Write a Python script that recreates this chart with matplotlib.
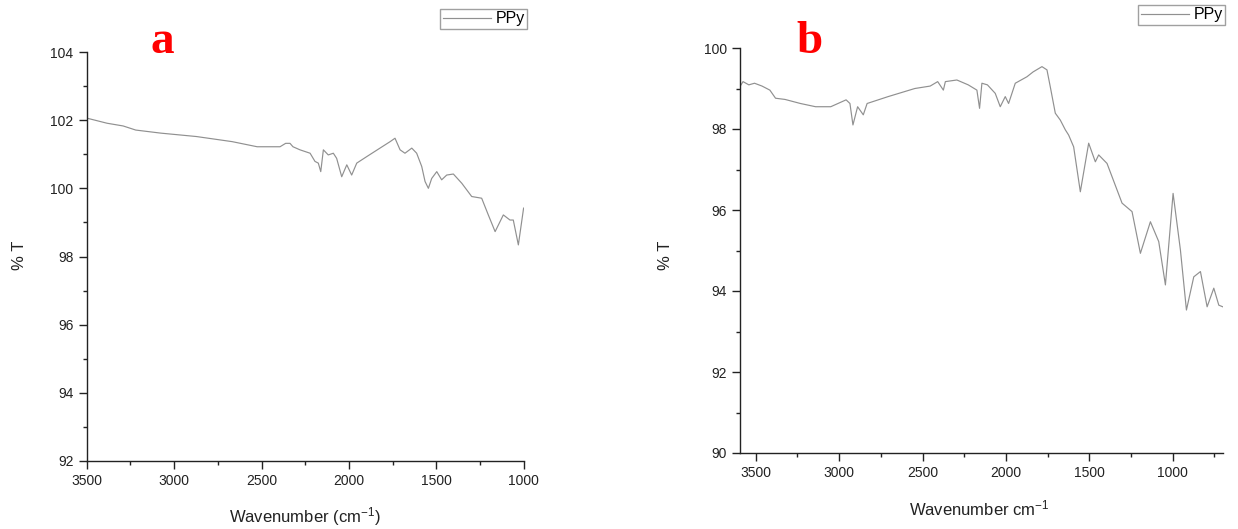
import matplotlib
matplotlib.use("Agg")
import matplotlib.pyplot as plt
from matplotlib.ticker import MultipleLocator

plt.rcParams['font.family'] = ['Liberation Sans', 'DejaVu Sans']
plt.rcParams['mathtext.default'] = 'regular'

# panel a: PPy spectrum
wn_a = [3500, 3384, 3292, 3220, 3077, 2873, 2668, 2525, 2443, 2394, 2362, 2337,
        2320, 2280, 2222, 2194, 2175, 2161, 2146, 2118, 2089, 2070, 2041, 2012,
        1984, 1955, 1898, 1822, 1764, 1736, 1707, 1679, 1640, 1612, 1583, 1564,
        1545, 1526, 1497, 1469, 1440, 1402, 1354, 1297, 1240, 1202, 1163, 1116,
        1078, 1059, 1030, 1000]
t_a = [102.06, 101.91, 101.83, 101.71, 101.62, 101.52, 101.37, 101.22, 101.22,
       101.22, 101.32, 101.32, 101.22, 101.13, 101.03, 100.79, 100.74, 100.49,
       101.13, 100.98, 101.03, 100.88, 100.34, 100.69, 100.39, 100.74, 100.93,
       101.18, 101.37, 101.47, 101.13, 101.03, 101.18, 101.03, 100.64, 100.2,
       100.0, 100.29, 100.49, 100.25, 100.39, 100.42, 100.15, 99.76, 99.71,
       99.22, 98.73, 99.22, 99.07, 99.07, 98.34, 99.42]

# panel b: PPy spectrum
wn_b = [3594, 3576, 3541, 3507, 3462, 3415, 3381, 3324, 3232, 3141, 3050, 2958,
        2935, 2917, 2889, 2855, 2832, 2706, 2546, 2454, 2409, 2375, 2363, 2294,
        2226, 2174, 2158, 2144, 2111, 2064, 2034, 2004, 1984, 1944, 1874, 1837,
        1784, 1754, 1734, 1704, 1674, 1644, 1624, 1594, 1554, 1504, 1464, 1444,
        1394, 1304, 1244, 1194, 1134, 1084, 1044, 998, 954, 918, 874, 834, 794,
        754, 724, 700]
t_b = [99.05, 99.17, 99.09, 99.13, 99.06, 98.96, 98.76, 98.73, 98.63, 98.55,
       98.55, 98.72, 98.63, 98.1, 98.55, 98.35, 98.63, 98.8, 99.0, 99.06, 99.17,
       98.96, 99.17, 99.21, 99.09, 98.96, 98.51, 99.13, 99.09, 98.88, 98.55,
       98.8, 98.63, 99.13, 99.29, 99.41, 99.54, 99.46, 99.04, 98.39, 98.22,
       97.98, 97.85, 97.56, 96.45, 97.65, 97.19, 97.36, 97.15, 96.17, 95.96,
       94.93, 95.71, 95.22, 94.15, 96.41, 95.01, 93.53, 94.35, 94.48, 93.61,
       94.07, 93.65, 93.61]

W, H = 1238, 529
fig = plt.figure(figsize=(W / 100, H / 100), dpi=100)


def px(x0, y0, x1, y1):
    return [x0 / W, 1 - y1 / H, (x1 - x0) / W, (y1 - y0) / H]


def style(ax):
    for s in ['top', 'right']:
        ax.spines[s].set_visible(False)
    for s in ['left', 'bottom']:
        ax.spines[s].set_linewidth(1.0)
        ax.spines[s].set_color('#222222')
    ax.tick_params(which='major', direction='out', length=6, width=1,
                   labelsize=10, colors='#222222')
    ax.tick_params(which='minor', direction='out', length=3, width=1,
                   colors='#222222')


leg_kw = dict(loc='upper right', fontsize=11.5, fancybox=False, frameon=True,
              edgecolor='#888888', handlelength=3.0, borderpad=0.15,
              handletextpad=0.3, borderaxespad=0)

ax1 = fig.add_axes(px(86.8, 52, 523.6, 461))
ax1.plot(wn_a, t_a, color='#909090', lw=0.85, label='PPy')
ax1.set_xlim(3500, 1000)
ax1.set_ylim(92, 104)
ax1.xaxis.set_major_locator(MultipleLocator(500))
ax1.xaxis.set_minor_locator(MultipleLocator(250))
ax1.yaxis.set_major_locator(MultipleLocator(2))
ax1.yaxis.set_minor_locator(MultipleLocator(1))
style(ax1)
ax1.legend(bbox_to_anchor=(527 / W, 1 - 9 / H),
           bbox_transform=fig.transFigure, **leg_kw)

ax2 = fig.add_axes(px(740, 48, 1222.8, 453))
ax2.plot(wn_b, t_b, color='#909090', lw=0.85, label='PPy')
ax2.set_xlim(3594, 700)
ax2.set_ylim(90, 100)
ax2.xaxis.set_major_locator(MultipleLocator(500))
ax2.xaxis.set_minor_locator(MultipleLocator(250))
ax2.yaxis.set_major_locator(MultipleLocator(2))
ax2.yaxis.set_minor_locator(MultipleLocator(1))
style(ax2)
ax2.legend(bbox_to_anchor=(1225 / W, 1 - 5 / H),
           bbox_transform=fig.transFigure, **leg_kw)

# axis labels
fig.text(20 / W, 1 - 255 / H, '% T', rotation=90, ha='center', va='center',
         fontsize=12, color='#222222')
fig.text(305 / W, 1 - 517 / H, 'Wavenumber (cm$^{-1}$)', ha='center',
         va='center', fontsize=12, color='#222222')
fig.text(666 / W, 1 - 255 / H, '% T', rotation=90, ha='center', va='center',
         fontsize=12, color='#222222')
fig.text(979 / W, 1 - 508 / H, 'Wavenumber cm$^{-1}$', ha='center',
         va='center', fontsize=12, color='#222222')

# panel letters
fig.text(150 / W, 1 - 53 / H, 'a', color='red', fontsize=34,
         fontweight='bold', family='Liberation Serif', ha='left',
         va='baseline')
fig.text(796 / W, 1 - 53 / H, 'b', color='red', fontsize=34,
         fontweight='bold', family='Liberation Serif', ha='left',
         va='baseline')

fig.savefig('out.png', dpi=100)
